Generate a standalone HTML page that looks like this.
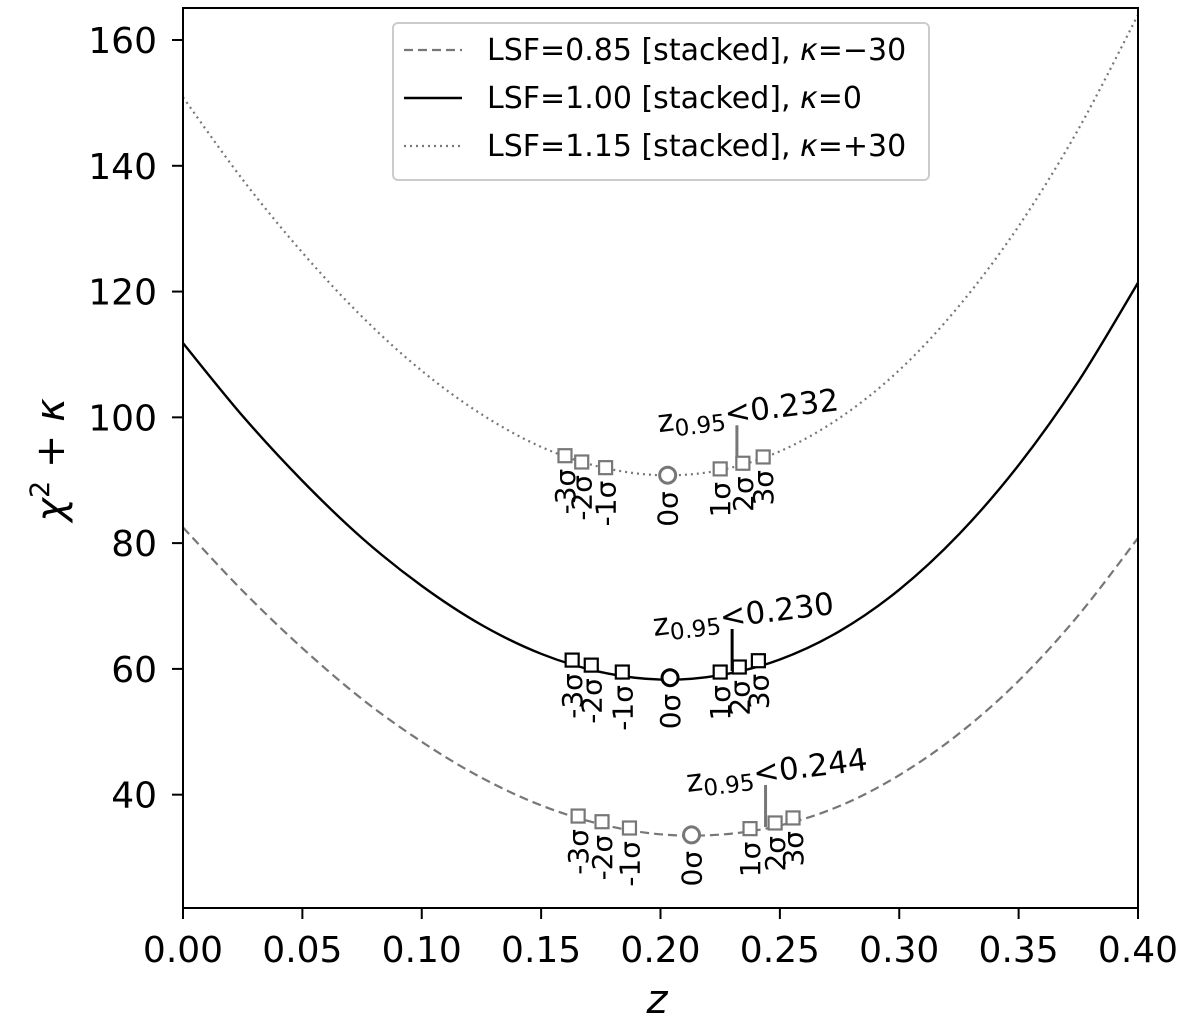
<!DOCTYPE html>
<html><head><meta charset="utf-8"><style>
html,body{margin:0;padding:0;background:#fff;}
svg{display:block;font-family:"DejaVu Sans","Liberation Sans",sans-serif;}
</style></head><body>
<svg id="chart" width="1200" height="1025" viewBox="0 0 1200 1025" xmlns="http://www.w3.org/2000/svg">
<g id="plot"></g>
</svg>
<script>
const zGrid = [0,0.025,0.05,0.075,0.1,0.125,0.15,0.175,0.2,0.225,0.25,0.275,0.3,0.325,0.35,0.375,0.4];
const dashedVals = [82.5,72.4,63.3,55.2,48.4,42.7,38.3,35.3,33.7,33.65,35.1,38.2,43.1,49.7,58.1,68.5,80.8];
const solidVals = [111.8,100.2,89.9,80.8,73.2,67.0,62.4,59.5,58.3,59.0,61.5,66.0,72.6,81.4,92.4,105.7,121.4];
const dottedVals = [150.9,137.8,126.2,116.0,107.4,100.5,95.3,92.1,90.8,91.6,94.6,99.9,107.5,117.7,130.4,145.8,164.0];
const sigmaLabels = ["-3σ","-2σ","-1σ","0σ","1σ","2σ","3σ"];
const dashedMarkZ = [0.1655,0.1755,0.187,0.213,0.2375,0.248,0.2555];
const dashedMarkY = [36.6,35.7,34.7,33.6,34.6,35.5,36.3];
const solidMarkZ = [0.163,0.171,0.184,0.204,0.225,0.233,0.241];
const solidMarkY = [61.4,60.6,59.5,58.6,59.5,60.3,61.3];
const dottedMarkZ = [0.160,0.167,0.177,0.203,0.225,0.2345,0.243];
const dottedMarkY = [93.9,92.9,92.0,90.8,91.8,92.7,93.7];
const z95 = [0.244,0.230,0.232];
const z95Text = ["0.244","0.230","0.232"];
const xTicks = [0,0.05,0.1,0.15,0.2,0.25,0.3,0.35,0.4];
const xTickLabels = ["0.00","0.05","0.10","0.15","0.20","0.25","0.30","0.35","0.40"];
const yTicks = [40,60,80,100,120,140,160];

const X0=183,X1=1138,Y0=8,Y1=908;
const xMin=0,xMax=0.4,yMin=21.98,yMax=165.09;
function sx(v){return X0+(v-xMin)/(xMax-xMin)*(X1-X0);}
function sy(v){return Y1-(v-yMin)/(yMax-yMin)*(Y1-Y0);}
const NS="http://www.w3.org/2000/svg";
const plot=document.getElementById('plot');
function mk(tag,attrs,parent){const e=document.createElementNS(NS,tag);for(const k in attrs)e.setAttribute(k,attrs[k]);(parent||plot).appendChild(e);return e;}

const defs=mk('defs',{});
const cp=mk('clipPath',{id:'clip'},defs);
mk('rect',{x:X0,y:Y0,width:X1-X0,height:Y1-Y0},cp);

function smoothPath(xs,ys){
  const p=xs.map((x,i)=>[sx(x),sy(ys[i])]);
  let d=`M${p[0][0]},${p[0][1]}`;
  for(let i=0;i<p.length-1;i++){
    const p0=p[Math.max(0,i-1)],p1=p[i],p2=p[i+1],p3=p[Math.min(p.length-1,i+2)];
    const c1=[p1[0]+(p2[0]-p0[0])/6,p1[1]+(p2[1]-p0[1])/6];
    const c2=[p2[0]-(p3[0]-p1[0])/6,p2[1]-(p3[1]-p1[1])/6];
    d+=` C${c1[0]},${c1[1]} ${c2[0]},${c2[1]} ${p2[0]},${p2[1]}`;
  }
  return d;
}
const series=[
 {name:'dashed',vals:dashedVals,color:'#777',dash:'9,5',w:2.2,mz:dashedMarkZ,my:dashedMarkY,idx:0},
 {name:'solid',vals:solidVals,color:'#000',dash:'none',w:2.4,mz:solidMarkZ,my:solidMarkY,idx:1},
 {name:'dotted',vals:dottedVals,color:'#777',dash:'2,4',w:2.2,mz:dottedMarkZ,my:dottedMarkY,idx:2}
];
series.forEach(s=>{
  const g=mk('g',{'clip-path':'url(#clip)'});
  const path=mk('path',{d:smoothPath(zGrid,s.vals),fill:'none',stroke:s.color,'stroke-width':s.w,'stroke-dasharray':s.dash},g);
  
  
  const zx=sx(z95[s.idx]);
  const curveYAt=s.my[5];
  const vl=mk('line',{x1:zx,x2:zx,y1:sy(curveYAt)-38,y2:sy(curveYAt)+4,stroke:s.color,'stroke-width':3});
  
  
  s.mz.forEach((z,i)=>{
    const cx=sx(z),cy=sy(s.my[i]);
    let m;
    if(i===3){m=mk('circle',{cx:cx,cy:cy,r:8,fill:'#fff',stroke:s.color,'stroke-width':3});}
    else{m=mk('rect',{x:cx-6.5,y:cy-6.5,width:13,height:13,fill:'#fff',stroke:s.color,'stroke-width':2.2});}
    
    
    const ty=cy+(i===3?16:13);
    const t=mk('text',{x:0,y:0,transform:`translate(${cx+10},${ty}) rotate(-90)`,'text-anchor':'end','font-size':28,fill:'#000'});
    t.textContent=sigmaLabels[i];
    
    
  });
  const ax=sx(z95[s.idx])-78, ay=sy(curveYAt)-31;
  const at=mk('text',{x:0,y:0,transform:`translate(${ax},${ay}) rotate(-7)`,'font-size':31,fill:'#000'});
  at.innerHTML=`z<tspan font-size="23" dy="6">0.95</tspan><tspan dy="-6">&lt;${z95Text[s.idx]}</tspan>`;
  
  
});

const frame=mk('rect',{x:X0,y:Y0,width:X1-X0,height:Y1-Y0,fill:'none',stroke:'#000','stroke-width':2});


xTicks.forEach((v,i)=>{
  const x=sx(v);
  mk('line',{x1:x,x2:x,y1:Y1,y2:Y1+11,stroke:'#000','stroke-width':2});
  const t=mk('text',{x:x,y:962,'text-anchor':'middle','font-size':36,fill:'#000'});
  t.textContent=xTickLabels[i];
  
  
});
yTicks.forEach(v=>{
  const y=sy(v);
  mk('line',{x1:X0-11,x2:X0,y1:y,y2:y,stroke:'#000','stroke-width':2});
  const t=mk('text',{x:157,y:y+13,'text-anchor':'end','font-size':36,fill:'#000'});
  t.textContent=String(v);
  
  
});
const xl=mk('text',{x:657,y:1013,'text-anchor':'middle','font-size':40,'font-style':'italic',fill:'#000'});
xl.textContent='z';


const yl=mk('text',{x:0,y:0,transform:'translate(64,460) rotate(-90)','text-anchor':'middle','font-size':40,fill:'#000'});
yl.innerHTML='<tspan font-style="italic">χ</tspan><tspan font-size="27" dy="-15">2</tspan><tspan dy="15"> + </tspan><tspan font-style="italic">κ</tspan>';



const lg=mk('g',{});


mk('rect',{x:393,y:23,width:536,height:157,rx:5,fill:'#fff',stroke:'#ccc','stroke-width':2},lg);
const legTexts=['LSF=0.85 [stacked], <tspan font-style="italic">κ</tspan>=−30','LSF=1.00 [stacked], <tspan font-style="italic">κ</tspan>=0','LSF=1.15 [stacked], <tspan font-style="italic">κ</tspan>=+30'];
series.forEach((s,i)=>{
  const y=50+i*48;
  const e=mk('g',{},lg);
  
  
  mk('line',{x1:404,x2:462,y1:y,y2:y,stroke:s.color,'stroke-width':s.w,'stroke-dasharray':s.dash},e);
  const t=mk('text',{x:487,y:y+10,'font-size':30,fill:'#000'},e);
  t.innerHTML=legTexts[i];
});
</script>
</body></html>
